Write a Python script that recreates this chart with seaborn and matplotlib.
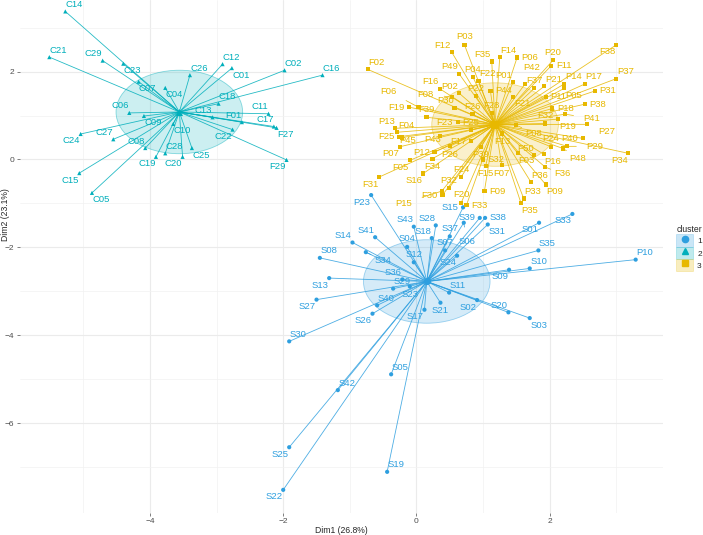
import numpy as np
import pandas as pd
import matplotlib
matplotlib.use("Agg")
import matplotlib.pyplot as plt
from matplotlib.patches import Ellipse, Patch
from matplotlib.lines import Line2D
import seaborn as sns

# cluster 1 (blue)
c1_names = ["P10", "P23", "S33", "S01", "S35", "S10", "S09", "S20", "S03", "S02",
            "S21", "S11", "S17", "S24", "S22", "S25", "S42", "S05", "S19", "S30",
            "S27", "S13", "S08", "S14", "S41", "S34", "S36", "S40", "S26", "S23",
            "S29", "S12", "S04", "S43", "S28", "S18", "S37", "S07", "S15", "S39",
            "S38", "S31", "S06"]
c1_dim1 = [3.29, -0.68, 2.34, 1.84, 1.83, 1.70, 1.39, 1.38, 1.70, 0.91,
           0.36, 0.49, 0.12, 0.61, -2.00, -1.91, -1.18, -0.38, -0.44, -1.91,
           -1.50, -1.31, -1.45, -0.96, -0.62, -0.76, -0.21, -0.59, -0.66, -0.10,
           -0.35, -0.04, -0.14, -0.04, 0.29, 0.23, 0.50, 0.43, 0.70, 0.95,
           1.03, 1.07, 0.71]
c1_dim2 = [-2.28, -0.81, -1.24, -1.44, -2.07, -2.48, -2.51, -3.48, -3.61, -3.20,
           -3.26, -3.03, -3.42, -2.19, -7.52, -6.55, -5.25, -4.89, -7.11, -4.14,
           -3.19, -2.70, -2.24, -1.89, -1.77, -2.11, -2.73, -3.32, -3.51, -2.89,
           -2.94, -2.34, -1.99, -1.53, -1.50, -1.79, -1.75, -2.07, -1.09, -1.33,
           -1.33, -1.48, -1.44]

# cluster 2 (teal)
c2_names = ["C14", "C21", "C29", "C23", "C07", "C04", "C26", "C12", "C01", "C02",
            "C16", "C18", "C13", "C11", "F01", "C17", "F27", "C22", "F29", "C25",
            "C20", "C28", "C10", "C19", "C08", "C09", "C27", "C24", "C06", "C15",
            "C05"]
c2_dim1 = [-5.27, -5.51, -4.71, -4.40, -4.17, -3.77, -3.40, -2.91, -2.77, -1.98,
           -1.41, -2.97, -3.06, -2.22, -2.62, -2.14, -2.10, -2.76, -1.95, -3.37,
           -3.51, -3.77, -3.65, -3.91, -4.07, -4.09, -4.55, -5.04, -4.31, -5.06,
           -4.87]
c2_dim2 = [3.37, 2.33, 2.25, 2.18, 1.77, 1.63, 1.92, 2.17, 2.08, 2.03,
           1.92, 1.27, 0.96, 1.04, 0.85, 0.75, 0.72, 0.68, -0.01, 0.26,
           0.06, 0.14, 0.81, 0.06, 0.26, 0.99, 0.46, 0.58, 1.06, -0.31,
           -0.76]

# cluster 3 (yellow)
c3_names = ["F02", "F12", "P03", "F35", "F14", "P06", "P20", "F11", "F38", "P37",
            "P17", "P14", "P31", "P05", "P21", "P11", "F37", "P42", "P01", "P44",
            "F22", "P04", "P49", "F16", "P02", "F08", "P30", "P22", "F26", "F28",
            "F21", "F06", "F19", "F39", "P13", "F04", "F25", "P45", "P07", "F05",
            "F31", "P12", "F34", "S16", "P26", "P43", "F17", "F23", "P25", "P39",
            "F24", "P32", "P15", "F30", "F20", "F33", "F09", "F15", "S32", "F13",
            "F07", "F03", "P50", "P36", "P33", "P35", "F36", "P09", "P16", "P48",
            "P29", "P34", "P40", "P24", "P27", "P19", "P41", "P18", "P38", "F32",
            "P08"]
c3_dim1 = [-0.73, 0.53, 0.72, 1.13, 1.25, 1.51, 2.05, 2.02, 3.00, 3.00,
           2.53, 2.22, 2.68, 2.22, 1.92, 1.94, 1.77, 1.63, 1.45, 1.11,
           0.93, 0.85, 0.64, 0.35, 0.64, 0.53, 0.57, 0.89, 0.84, 1.13,
           1.45, 0.03, -0.11, 0.15, -0.32, -0.29, -0.26, -0.22, -0.25, -0.10,
           -0.56, 0.27, 0.24, 0.10, 0.50, 0.35, 0.82, 0.62, 0.82, 0.97,
           0.67, 0.49, 0.38, 0.39, 0.67, 0.75, 1.02, 1.04, 1.00, 1.29,
           1.28, 1.52, 1.77, 1.72, 1.61, 1.57, 1.93, 1.94, 1.91, 2.20,
           2.26, 3.18, 2.50, 2.02, 2.56, 2.13, 2.23, 2.04, 2.53, 1.93,
           1.50]
c3_dim2 = [2.05, 2.44, 2.61, 2.23, 2.33, 2.32, 2.26, 2.13, 2.61, 1.84,
           1.72, 1.72, 1.56, 1.62, 1.67, 1.43, 1.62, 1.72, 1.76, 1.56,
           1.79, 1.87, 1.95, 1.61, 1.51, 1.42, 1.18, 1.44, 1.03, 1.05,
           1.43, 1.19, 1.19, 0.96, 0.71, 0.62, 0.52, 0.50, 0.29, -0.02,
           -0.40, 0.17, 0.02, -0.32, 0.30, 0.53, 0.42, 0.85, 0.67, 0.29,
           -0.40, -0.65, -0.72, -0.81, -0.99, -1.04, -0.72, -0.14, 0.00, 0.59,
           -0.13, 0.14, 0.10, -0.52, -0.89, -1.00, -0.17, -0.57, 0.12, 0.25,
           0.30, 0.14, 0.48, 0.29, 0.80, 0.92, 1.03, 1.16, 1.26, 0.82,
           0.78]

cluster_ids = ["1", "2", "3"]
palette = {"1": "#2E9FDF", "2": "#00AFBB", "3": "#E7B800"}
markers = {"1": "o", "2": "^", "3": "s"}

frames = []
for cid, nm, d1, d2 in [("1", c1_names, c1_dim1, c1_dim2),
                        ("2", c2_names, c2_dim1, c2_dim2),
                        ("3", c3_names, c3_dim1, c3_dim2)]:
    frames.append(pd.DataFrame({"name": nm, "Dim1": d1, "Dim2": d2, "cluster": cid}))
df = pd.concat(frames, ignore_index=True)
centers = df.groupby("cluster")[["Dim1", "Dim2"]].mean()

# where each label sits relative to its point (repel-like layout)
DIRS = {"ur": (9, 7), "ul": (-9, 7), "dr": (9, -7), "dl": (-9, -7),
        "u": (0, 8), "d": (0, -8), "l": (-13, 0), "r": (13, 0)}
lab_dir = {
    # cluster 2
    "C14": "ur", "C21": "ur", "C29": "ul", "C23": "dr", "C07": "dr", "C04": "dr",
    "C26": "ur", "C12": "ur", "C01": "dr", "C02": "ur", "C16": "ur", "C18": "ur",
    "C13": "ul", "C11": "ul", "F01": "ul", "C17": "ul", "F27": "dr", "C22": "dl",
    "F29": "dl", "C25": "dr", "C20": "dl", "C28": "ur", "C10": "dr", "C19": "dl",
    "C08": "ul", "C09": "dr", "C27": "ul", "C24": "dl", "C06": "ul", "C15": "dl",
    "C05": "dr",
    # cluster 3
    "F02": "ur", "F12": "ul", "P03": "u", "F35": "ul", "F14": "ur", "P06": "r",
    "P20": "u", "F11": "r", "F38": "dl", "P37": "ur", "P17": "ur", "P14": "ur",
    "P31": "r", "P05": "dr", "P21": "ur", "P11": "r", "F37": "u", "P01": "ul",
    "P44": "r", "F22": "ur", "P04": "u", "P49": "ul", "F16": "ul", "P02": "ul",
    "P30": "ul", "P22": "u", "F26": "u", "F28": "u", "F21": "dr", "F19": "l",
    "F39": "u", "P13": "ul", "F04": "ur", "F25": "l", "P07": "dl",
    "F05": "dl", "F31": "dl", "P12": "l", "F34": "d", "S16": "dl", "P26": "d",
    "F17": "l", "F23": "l", "P25": "u", "P39": "d", "F24": "u",
    "P32": "u", "F30": "l", "F20": "u", "F33": "r", "F09": "r", "F15": "d",
    "S32": "r", "F13": "d", "F07": "d", "F03": "dr", "P50": "ul", "P36": "ur",
    "P33": "ur", "P35": "dr", "P09": "dr", "P16": "dr", "P34": "dl", "P40": "l",
    "P24": "u", "P19": "dr", "P18": "r", "P38": "r", "F32": "u",
    # cluster 1
    "P10": "ur", "P23": "dl", "S33": "dl", "S01": "dl", "S35": "ur", "S10": "ur",
    "S09": "dl", "S20": "ul", "S03": "dr", "S02": "dl", "S21": "d", "S11": "ur",
    "S17": "dl", "S24": "dl", "S22": "dl", "S25": "dl", "S42": "ur", "S05": "ur",
    "S19": "ur", "S30": "ur", "S27": "dl", "S13": "dl", "S08": "ur", "S14": "ul",
    "S41": "ul", "S36": "ul", "S40": "ur", "S26": "dl", "S23": "d", "S29": "ur",
    "S12": "u", "S04": "u", "S43": "ul", "S28": "ul", "S18": "ul", "S37": "u",
    "S07": "u", "S15": "l", "S39": "l", "S38": "r", "S31": "dr",
}
lab_custom = {"F06": (-30, 16), "P15": (-38, -12), "F08": (-26, 3), "S06": (3, -19),
              "P42": (7, 16), "P29": (28, 0), "P41": (27, -4), "S34": (17, -8),
              "P27": (20, -7), "P48": (15, -10), "P08": (17, -8), "F36": (17, -7),
              "P43": (-7, -3), "P45": (6, -3)}

sns.set_theme(style="whitegrid")
plt.rcParams["font.family"] = ["Liberation Sans", "DejaVu Sans"]

fig = plt.figure(figsize=(7.03, 5.35), dpi=100)
ax = fig.add_axes([20 / 703, 22.3 / 535, 643 / 703, 512.7 / 535])
ax.set_facecolor("white")

for cid in cluster_ids:
    cx, cy = centers.loc[cid]
    ax.add_patch(Ellipse((cx, cy), 2 * 0.95, 2 * 0.95, facecolor=palette[cid],
                         alpha=0.2, edgecolor="none", zorder=1))
    ax.add_patch(Ellipse((cx, cy), 2 * 0.95, 2 * 0.95, facecolor="none",
                         edgecolor=palette[cid], alpha=0.45, lw=0.6, zorder=1))
    sub = df[df.cluster == cid]
    for _, r in sub.iterrows():
        ax.plot([cx, r.Dim1], [cy, r.Dim2], color=palette[cid], lw=0.6,
                alpha=0.85, zorder=2, solid_capstyle="butt")

sns.scatterplot(data=df, x="Dim1", y="Dim2", hue="cluster", style="cluster",
                palette=palette, markers=markers, s=9, linewidth=0,
                legend=False, ax=ax, zorder=3)
for cid in cluster_ids:
    cx, cy = centers.loc[cid]
    ax.scatter([cx], [cy], marker=markers[cid], s=26, color=palette[cid],
               linewidth=0, zorder=4)

for _, r in df.iterrows():
    if r["name"] in lab_custom:
        off = lab_custom[r["name"]]
    else:
        off = DIRS[lab_dir.get(r["name"], "u")]
    far = (off[0] ** 2 + off[1] ** 2) ** 0.5 > 18
    ax.annotate(r["name"], (r.Dim1, r.Dim2), xytext=off, textcoords="offset pixels",
                ha="center", va="center", fontsize=6.8, color=palette[r.cluster],
                zorder=5,
                arrowprops=dict(arrowstyle="-", color=palette[r.cluster], lw=0.5,
                                shrinkA=5, shrinkB=1) if far else None)

ax.set_xlim(-5.95, 3.70)
ax.set_ylim(-8.04, 3.63)
ax.set_xticks([-4, -2, 0, 2])
ax.set_xticks([-5, -3, -1, 1, 3], minor=True)
ax.set_yticks([-6, -4, -2, 0, 2])
ax.set_yticks([-7, -5, -3, -1, 1, 3], minor=True)
ax.grid(which="major", color="#EBEBEB", lw=0.8)
ax.grid(which="minor", color="#F2F2F2", lw=0.5)
for s in ax.spines.values():
    s.set_visible(False)
ax.tick_params(which="major", length=2.5, width=0.5, color="#4D4D4D",
               labelsize=6, labelcolor="#4D4D4D", pad=1.5, left=True, bottom=True)
ax.tick_params(which="minor", length=0)
ax.set_xlabel("Dim1 (26.8%)", fontsize=6.2, labelpad=0.5)
ax.set_ylabel("Dim2 (23.1%)", fontsize=6.2)
ax.yaxis.set_label_coords(-10 / 643, 0.581)

handles = []
for cid in cluster_ids:
    box = Patch(facecolor=palette[cid], alpha=0.25, edgecolor=palette[cid], lw=0.6)
    mk = Line2D([], [], marker=markers[cid], color=palette[cid], linestyle="",
                markersize=4.5)
    handles.append((box, mk))
fig.legend(handles, cluster_ids, title="cluster", loc="upper left",
           bbox_to_anchor=(673 / 703, 1 - 222 / 535), frameon=False, fontsize=6,
           title_fontsize=6.2, handlelength=2.0, handleheight=1.9, labelspacing=0.0,
           handletextpad=0.5, borderaxespad=0, alignment="left")

fig.savefig("out.png", dpi=100)
